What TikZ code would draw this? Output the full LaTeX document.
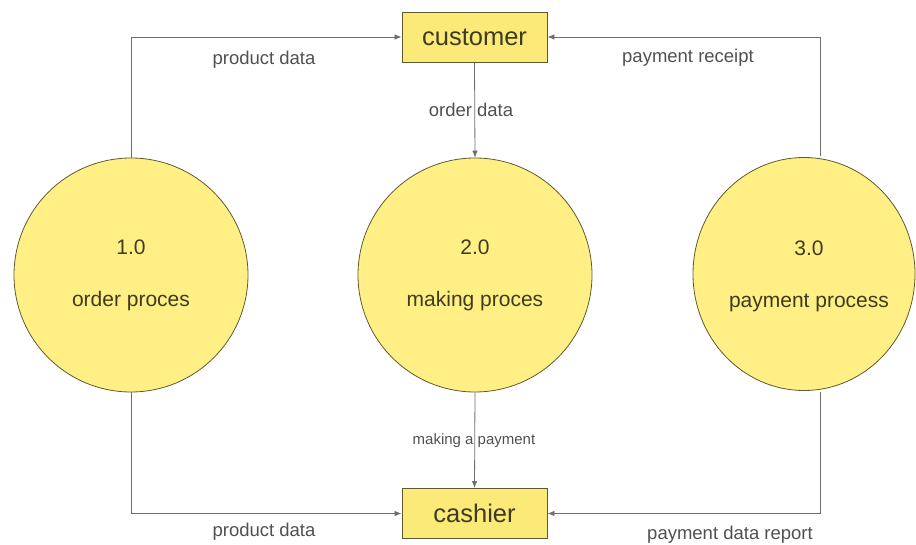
\documentclass[tikz,border=0pt]{standalone}
\usepackage{fontspec}
\setmainfont{Liberation Sans}
\usetikzlibrary{arrows.meta,shapes.geometric,calc}
\definecolor{procfill}{HTML}{FFEF85}
\definecolor{boxfill}{HTML}{FCEA78}
\definecolor{edgecol}{HTML}{5E5A30}
\definecolor{inktext}{HTML}{3E3B1E}
\definecolor{linecol}{HTML}{6E6E6E}
\definecolor{labcol}{HTML}{505050}
\tikzset{
  entity/.style={draw=edgecol, fill=boxfill, line width=0.9pt, minimum width=145pt, minimum height=50pt, inner sep=0pt, text=inktext, font=\fontsize{25.5}{30}\selectfont},
  proc/.style={draw=edgecol, fill=procfill, line width=0.8pt, inner sep=0pt, text=inktext, align=center, font=\fontsize{21}{26}\selectfont},
  proctext/.style={inner sep=0pt, text=inktext, align=center, font=\fontsize{21}{26}\selectfont},
  flow/.style={draw=linecol, line width=0.8pt, -{Latex[length=7pt,width=5.5pt]}},
  flowlab/.style={text=labcol, font=\fontsize{18.5}{22}\selectfont, inner sep=0pt},
  smalllab/.style={text=labcol, font=\fontsize{15}{18}\selectfont, inner sep=0pt}
}
\begin{document}
\begin{tikzpicture}[x=1pt,y=-1pt]
\useasboundingbox (0,0) rectangle (916,545);
\node[entity] (cust) at (474.5,37) {customer};
\node[entity] (cash) at (474.5,513.5) {cashier};
\node[proc, circle, minimum size=234pt] (c1) at (131,275) {1.0\\[26pt]order proces};
\node[proc, circle, minimum size=234pt] (c2) at (475,275) {2.0\\[26pt]making proces};
\node[proc, ellipse, minimum width=222pt, minimum height=233pt] (c3) at (804,274) {};
\node[proctext] (t3) at (809,276) {3.0\\[26pt]payment process};
\draw[flow] (cust.south) -- (c2.north);
\draw[flow] (c2.south) -- (cash.north);
\draw[flow] (c1.north) |- (cust.west);
\draw[flow] ([xshift=16pt,yshift=1pt]c3.north) |- (cust.east);
\draw[flow] (c1.south) |- (cash.west);
\draw[flow] ([xshift=16pt,yshift=-1pt]c3.south) |- (cash.east);
\node[flowlab] (l1) at (264,60) {product data};
\node[flowlab] (l2) at (688,58) {payment receipt};
\node[flowlab] (l3) at (471,110) {order data};
\node[smalllab] (l4) at (474,441) {making a payment};
\node[flowlab] (l5) at (264,532) {product data};
\node[flowlab] (l6) at (730,535) {payment data report};
\end{tikzpicture}
\end{document}
